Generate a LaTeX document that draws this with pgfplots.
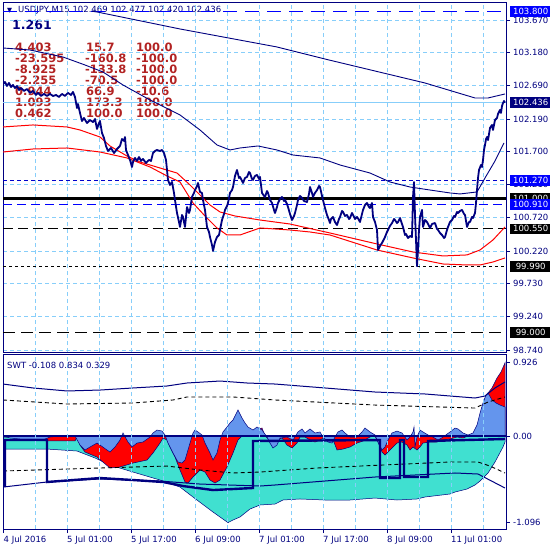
\documentclass[border=0pt]{standalone}
\usepackage{pgfplots}
\pgfplotsset{compat=1.18}
\usepackage{fontspec}
\setmainfont{DejaVu Sans}
\definecolor{mtnavy}{RGB}{0,0,128}
\definecolor{mtgrid}{RGB}{135,206,250}
\definecolor{mtblue}{RGB}{0,0,255}
\definecolor{mtlvl}{RGB}{0,0,205}
\definecolor{mtred}{RGB}{255,0,0}
\definecolor{mtfire}{RGB}{178,34,34}
\definecolor{mtcorn}{RGB}{100,149,237}
\definecolor{mtturq}{RGB}{64,224,208}
\newcommand{\sm}{\fontsize{8.5bp}{10bp}\selectfont}
\newcommand{\rtf}{\fontsize{11.5bp}{13bp}\bfseries\selectfont}
\tikzset{boxlab/.style={anchor=west, inner sep=0pt, minimum width=41bp, minimum height=10.5bp, font=\sm, text=white}}
\pgfplotsset{
  mtaxis/.style={
    scale only axis, width=503bp, xmin=3, xmax=506,
    axis line style={draw=mtnavy, line width=1bp},
    xtick={3.5,67,131,195,259,323,387,451},
    minor xtick={35,99,163,227,291,355,419,483},
    xmajorgrids, xminorgrids,
    grid style={draw=mtgrid, line width=0.8bp, dash pattern=on 4bp off 3bp},
    minor tick length=0pt,
    major tick length=4bp,
    tick align=outside,
    tick style={draw=mtnavy, line width=0.8bp},
    ytick pos=right, yticklabel pos=right,
    yticklabel style={font=\sm, text=mtnavy, anchor=west, inner sep=0pt, xshift=3bp},
    xticklabel style={font=\sm, text=mtnavy, anchor=north west, inner sep=0pt, yshift=-3bp},
  },
}
\begin{document}
\begin{tikzpicture}
\fill[white] (0,0) rectangle (550bp,-550bp);
\path[use as bounding box] (0,0) rectangle (550bp,-550bp);
% header texts
\node[anchor=west, inner sep=0pt, text=mtnavy, font=\fontsize{6.5bp}{7bp}\selectfont] at (7bp,-10.5bp) {▼};
\node[anchor=west, inner sep=0pt, text=mtnavy, font=\sm] at (18bp,-10.5bp) {USDJPY,M15 102.469 102.477 102.420 102.436};
\node[anchor=west, inner sep=0pt, text=mtnavy, font=\fontsize{12.5bp}{14bp}\bfseries\selectfont] at (12bp,-24.5bp) {1.261};
\begin{scope}[every node/.style={anchor=west, inner sep=0pt, text=mtfire, font=\rtf}]
\node at (15bp,-47bp) {4.403};   \node at (86bp,-47bp) {15.7};   \node at (136bp,-47bp) {100.0};
\node at (15bp,-58bp) {-23.595}; \node at (85bp,-58bp) {-160.8}; \node at (136bp,-58bp) {-100.0};
\node at (15bp,-69bp) {-8.925};  \node at (85bp,-69bp) {-133.8}; \node at (136bp,-69bp) {-100.0};
\node at (15bp,-80bp) {-2.255};  \node at (85bp,-80bp) {-70.5};  \node at (136bp,-80bp) {-100.0};
\node at (15bp,-91bp) {0.944};   \node at (86bp,-91bp) {66.9};   \node at (136bp,-91bp) {-10.6};
\node at (15bp,-102bp) {1.093};  \node at (86bp,-102bp) {173.3}; \node at (136bp,-102bp) {100.0};
\node at (15bp,-113bp) {0.462};  \node at (86bp,-113bp) {100.0}; \node at (136bp,-113bp) {100.0};
\end{scope}

% ---------------- main price panel ----------------
\begin{axis}[mtaxis, at={(3bp,-3bp)}, anchor=north west, height=349bp,
  ymin=98.710, ymax=103.924,
  ytick={103.670,103.180,102.690,102.190,101.700,101.210,100.720,100.220,99.730,99.240,98.740},
  yticklabels={103.670,103.180,102.690,102.190,101.700,101.210,100.720,100.220,99.730,99.240,98.740},
  ymajorgrids,
  xticklabels={}, major x tick style={draw=none},
  after end axis/.code={
    \node[boxlab, fill=mtblue] at (axis cs:510,103.800) {103.800};
    \node[boxlab, fill=mtnavy] at (axis cs:510,102.436) {102.436};
    \node[boxlab, fill=mtblue] at (axis cs:510,101.270) {101.270};
    \node[boxlab, fill=black] at (axis cs:510,101.000) {101.000};
    \node[boxlab, fill=mtblue] at (axis cs:510,100.910) {100.910};
    \node[boxlab, fill=black] at (axis cs:510,100.550) {100.550};
    \node[boxlab, fill=black] at (axis cs:510,99.990) {99.990};
    \node[boxlab, fill=black] at (axis cs:510,99.000) {99.000};
  }]
% levels
\addplot[mtblue, line width=1bp, dash pattern=on 14bp off 8bp] coordinates {(3,103.800) (506,103.800)};
\addplot[mtgrid, line width=1bp] coordinates {(3,102.436) (506,102.436)};
\addplot[mtlvl, line width=1bp, dash pattern=on 4bp off 3bp] coordinates {(3,101.270) (506,101.270)};
\addplot[black, line width=3.5bp] coordinates {(3,101.000) (506,101.000)};
\addplot[mtblue, line width=1bp, dash pattern=on 9bp off 5bp] coordinates {(3,100.910) (506,100.910)};
\addplot[black, line width=1bp, dash pattern=on 10bp off 5bp] coordinates {(3,100.550) (506,100.550)};
\addplot[black, line width=1bp, dash pattern=on 3bp off 3bp] coordinates {(3,99.990) (506,99.990)};
\addplot[black, line width=1bp, dash pattern=on 12bp off 6bp] coordinates {(3,99.000) (506,99.000)};
% red averages
\addplot[mtred, line width=1bp] coordinates {(3,102.072) (33,102.102) (67,102.072) (80,102.027) (100,101.922) (110,101.788) (127,101.638) (140,101.549) (160,101.459) (177,101.384) (190,101.205) (200,101.056) (210,100.906) (220,100.802) (235,100.742) (260,100.682) (290,100.622) (330,100.488) (377,100.324) (413,100.204) (443,100.145) (467,100.160) (480,100.234) (493,100.384) (505,100.578)};
\addplot[mtred, line width=1bp] coordinates {(3,101.698) (33,101.743) (67,101.758) (100,101.698) (127,101.609) (150,101.474) (167,101.340) (180,101.250) (193,100.936) (205,100.742) (217,100.563) (227,100.458) (240,100.458) (260,100.563) (275,100.548) (290,100.533) (310,100.503) (330,100.458) (377,100.234) (413,100.115) (443,100.025) (467,100.010) (480,100.010) (493,100.055) (505,100.115)};
% blue averages
\addplot[mtnavy, line width=0.9bp] coordinates {(92,103.800) (97,103.790) (180,103.536) (277,103.267) (325,103.087) (375,102.908) (425,102.729) (475,102.505) (488,102.505) (505,102.565)};
\addplot[mtnavy, line width=0.9bp] coordinates {(3,103.252) (30,103.222) (63,103.117) (85,102.998) (103,102.893) (123,102.699) (150,102.475) (180,102.251) (200,102.027) (217,101.803) (230,101.728) (240,101.758) (258,101.788) (277,101.728) (293,101.653) (320,101.609) (340,101.504) (370,101.384) (390,101.250) (410,101.175) (430,101.130) (450,101.086) (460,101.071) (477,101.101) (485,101.310) (495,101.564) (504,101.833)};
% price
\addplot[mtnavy, line width=1.8bp, line join=round] coordinates {(3,102.714) (5,102.744) (7,102.684) (9,102.729) (11,102.669) (13,102.699) (15,102.654) (17,102.684) (19,102.624) (21,102.654) (24,102.610) (27,102.639) (30,102.580) (33,102.610) (36,102.550) (38,102.580) (41,102.535) (44,102.565) (47,102.535) (50,102.565) (53,102.535) (56,102.550) (59,102.520) (62,102.565) (65,102.535) (68,102.580) (71,102.550) (73,102.595) (75,102.520) (77,102.355) (78,102.415) (80,102.281) (82,102.161) (84,102.206) (87,102.131) (90,102.176) (93,102.146) (95,102.191) (97,102.042) (99,102.131) (100,102.161) (102,101.982) (104,101.907) (106,101.788) (108,101.713) (111,101.758) (114,101.683) (117,101.743) (120,101.788) (122,101.892) (124,101.863) (125,101.922) (126,101.728) (128,101.653) (130,101.579) (132,101.474) (133,101.549) (135,101.609) (137,101.564) (139,101.623) (141,101.564) (143,101.594) (146,101.534) (149,101.579) (151,101.564) (153,101.683) (155,101.713) (157,101.728) (160,101.713) (162,101.728) (164,101.683) (166,101.579) (168,101.280) (170,101.205) (172,101.250) (174,101.086) (175,100.981) (177,100.787) (179,100.652) (180,100.578) (182,100.757) (183,100.727) (185,100.578) (187,100.876) (189,100.787) (190,100.832) (192,101.026) (194,101.086) (195,101.130) (197,101.190) (198,101.235) (200,101.101) (202,101.086) (203,100.981) (205,100.832) (207,100.578) (209,100.503) (210,100.428) (212,100.309) (213,100.219) (215,100.354) (217,100.428) (219,100.458) (220,100.533) (222,100.682) (224,100.772) (225,100.832) (227,100.891) (228,100.936) (230,101.086) (232,101.130) (233,101.175) (235,101.340) (237,101.429) (239,101.310) (240,101.325) (242,101.265) (243,101.235) (245,101.310) (247,101.325) (249,101.399) (250,101.384) (252,101.295) (253,101.280) (255,101.340) (257,101.355) (259,101.295) (260,101.325) (262,101.086) (264,101.041) (265,101.026) (267,101.115) (268,101.086) (270,100.981) (272,100.936) (274,100.832) (275,100.787) (277,100.876) (278,100.936) (280,100.996) (282,101.026) (284,100.966) (285,100.981) (287,100.921) (288,100.876) (290,100.772) (292,100.682) (294,100.742) (295,100.787) (297,100.906) (298,100.981) (300,101.041) (302,101.011) (304,100.966) (307,100.951) (309,101.071) (310,101.175) (312,101.086) (313,101.026) (315,101.086) (317,101.130) (319,101.190) (320,101.175) (322,101.041) (323,100.981) (325,100.861) (327,100.757) (329,100.682) (330,100.637) (331,100.697) (333,100.727) (335,100.652) (337,100.607) (339,100.697) (340,100.727) (342,100.817) (343,100.802) (345,100.742) (347,100.757) (349,100.697) (350,100.712) (352,100.787) (353,100.757) (355,100.697) (357,100.727) (359,100.682) (360,100.652) (362,100.772) (363,100.832) (365,100.906) (367,100.936) (369,100.876) (370,100.861) (372,100.936) (373,100.727) (375,100.652) (377,100.533) (378,100.234) (380,100.294) (382,100.339) (384,100.398) (385,100.428) (387,100.503) (388,100.533) (390,100.593) (392,100.637) (394,100.697) (395,100.682) (397,100.637) (398,100.652) (400,100.712) (402,100.622) (403,100.578) (405,100.458) (406,100.473) (408,100.413) (410,100.443) (412,100.428) (413,101.026) (414,101.250) (415,100.757) (416,100.384) (417,99.990) (418,100.234) (419,100.533) (420,100.727) (422,100.832) (423,100.578) (425,100.682) (427,100.652) (429,100.593) (430,100.563) (432,100.622) (435,100.637) (437,100.548) (438,100.533) (440,100.488) (442,100.458) (444,100.413) (445,100.428) (447,100.533) (448,100.578) (450,100.652) (452,100.682) (454,100.742) (455,100.727) (457,100.802) (458,100.787) (460,100.817) (462,100.832) (464,100.772) (465,100.757) (467,100.578) (469,100.652) (470,100.652) (472,100.727) (473,100.712) (475,100.787) (476,100.936) (477,101.130) (478,101.310) (479,101.429) (481,101.504) (482,101.474) (483,101.579) (484,101.728) (485,101.803) (486,101.892) (487,101.922) (488,101.877) (489,101.967) (490,102.057) (492,102.102) (493,102.027) (495,102.176) (497,102.206) (498,102.266) (500,102.326) (501,102.281) (502,102.385) (503,102.430) (504,102.460) (505,102.436)};
\end{axis}

% ---------------- SWT indicator panel ----------------
\begin{axis}[mtaxis, at={(3bp,-354bp)}, anchor=north west, height=175bp,
  ymin=-1.177, ymax=1.038, axis on top,
  xtick pos=bottom,
  xticklabels={4 Jul 2016,5 Jul 01:00,5 Jul 17:00,6 Jul 09:00,7 Jul 01:00,7 Jul 17:00,8 Jul 09:00,11 Jul 01:00},
  ytick={0.926,0,-1.096},
  yticklabels={0.926,0.00,-1.096}]
% turquoise
\addplot[fill=mtturq, draw=mtnavy, line width=0.5bp] coordinates {(3,0) (3,-0.165) (47,-0.165) (77,-0.190) (95,-0.278) (110,-0.367) (133,-0.456) (160,-0.557) (180,-0.646) (193,-0.772) (205,-0.886) (213,-0.962) (220,-1.025) (228,-1.096) (233,-1.063) (240,-1.025) (250,-0.924) (260,-0.873) (275,-0.861) (283,-0.810) (300,-0.797) (325,-0.810) (350,-0.810) (375,-0.785) (397,-0.810) (417,-0.797) (425,-0.772) (450,-0.734) (455,-0.709) (467,-0.671) (475,-0.620) (480,-0.570) (488,-0.468) (495,-0.329) (503,-0.139) (505,-0.076) (505,0)} -- cycle;
% red
\addplot[fill=mtred, draw=mtnavy, line width=0.5bp] coordinates {(3,0) (3,-0.013) (45,-0.025) (48,-0.063) (75,-0.063) (77,-0.013) (80,-0.114) (85,-0.203) (97,-0.266) (110,-0.405) (120,-0.392) (133,-0.342) (147,-0.304) (153,-0.215) (160,-0.089) (163,-0.025) (167,-0.051) (170,-0.139) (175,-0.266) (180,-0.430) (185,-0.582) (188,-0.595) (193,-0.519) (200,-0.430) (205,-0.456) (210,-0.557) (215,-0.595) (220,-0.557) (227,-0.392) (233,-0.215) (238,-0.051) (242,0) (250,0) (255,0.076) (262,0.101) (265,0) (270,-0.051) (277,-0.051) (282,-0.025) (287,-0.114) (292,-0.152) (297,-0.089) (300,-0.013) (305,-0.013) (310,-0.051) (315,-0.076) (320,-0.051) (325,-0.013) (332,-0.013) (337,-0.177) (343,-0.165) (350,-0.139) (357,-0.089) (363,-0.063) (370,-0.013) (375,0) (378,-0.076) (382,-0.203) (385,-0.241) (390,-0.177) (397,-0.089) (402,-0.076) (407,-0.114) (410,-0.177) (413,-0.139) (417,-0.177) (420,-0.139) (423,-0.089) (430,-0.076) (437,-0.076) (443,-0.051) (450,-0.038) (457,-0.013) (463,-0.025) (468,0) (473,0) (475,0.038) (480,0.228) (484,0.456) (488,0.544) (492,0.608) (497,0.734) (501,0.810) (505,0.926) (505,0)} -- cycle;
% cornflower
\addplot[fill=mtcorn, draw=mtnavy, line width=0.5bp] coordinates {(3,0) (10,-0.025) (20,-0.038) (45,-0.038) (50,-0.013) (60,0) (75,0) (80,-0.114) (85,-0.177) (90,-0.139) (97,-0.089) (100,-0.114) (107,-0.177) (110,-0.203) (115,-0.139) (120,-0.051) (123,0.038) (128,-0.076) (132,-0.139) (137,-0.089) (143,-0.076) (150,-0.013) (153,0.038) (157,0.076) (162,0.063) (165,0.013) (168,-0.089) (173,-0.215) (178,-0.329) (182,-0.342) (185,-0.304) (190,-0.089) (193,0.038) (195,0.076) (198,0.051) (202,0.013) (205,-0.089) (210,-0.215) (213,-0.304) (217,-0.215) (220,-0.051) (223,0.051) (227,0.114) (230,0.165) (233,0.203) (238,0.329) (242,0.228) (245,0.165) (248,0.114) (253,0.076) (257,0.114) (262,0.076) (267,-0.013) (270,-0.089) (273,-0.152) (277,-0.114) (280,-0.025) (287,-0.013) (293,-0.051) (298,0.051) (302,0.089) (305,0.038) (310,0.089) (315,0.038) (320,0.051) (323,-0.013) (328,-0.076) (332,-0.089) (335,-0.013) (338,0.051) (342,0.076) (345,0.038) (350,-0.013) (357,-0.013) (362,0.051) (365,0.101) (370,0.051) (375,0.013) (378,-0.076) (382,-0.177) (385,-0.139) (388,-0.051) (392,0.038) (397,0.063) (402,0.038) (407,-0.051) (410,-0.013) (413,0.051) (414,0.114) (415,-0.139) (417,-0.013) (420,0.076) (423,0.051) (428,0.013) (433,-0.013) (438,-0.051) (443,-0.013) (450,0.051) (455,0.101) (458,0.089) (463,0.038) (468,0.013) (473,0.038) (477,0.139) (480,0.291) (483,0.418) (486,0.519) (488,0.544) (492,0.456) (496,0.418) (500,0.392) (505,0.367) (505,0)} -- cycle;
% zero line
\addplot[mtnavy, line width=1.5bp] coordinates {(3,0) (506,0)};
% bands
\addplot[mtnavy, line width=1bp] coordinates {(3,0.658) (33,0.608) (67,0.570) (100,0.582) (133,0.608) (167,0.633) (187,0.671) (220,0.696) (247,0.671) (275,0.658) (325,0.608) (375,0.557) (425,0.532) (475,0.481) (485,0.506) (495,0.608) (505,0.684)};
\addplot[black, line width=0.9bp, dash pattern=on 4bp off 3bp] coordinates {(3,0.456) (67,0.405) (133,0.418) (173,0.456) (187,0.494) (233,0.494) (275,0.456) (375,0.392) (475,0.354) (488,0.430) (505,0.494)};
\addplot[black, line width=0.9bp, dash pattern=on 4bp off 3bp] coordinates {(3,-0.443) (100,-0.405) (167,-0.380) (200,-0.430) (233,-0.468) (260,-0.456) (317,-0.405) (383,-0.367) (450,-0.329) (478,-0.329) (490,-0.380) (505,-0.468)};
\addplot[mtnavy, line width=1bp] coordinates {(3,-0.646) (47,-0.582) (100,-0.544) (160,-0.570) (200,-0.608) (260,-0.633) (275,-0.620) (375,-0.519) (455,-0.468) (478,-0.481) (505,-0.658)};
% step line
\addplot[mtnavy, line width=2.4bp] coordinates {(5,-0.646) (5,-0.051) (47,-0.051) (47,-0.582) (100,-0.532) (133,-0.557) (163,-0.582) (183,-0.633) (213,-0.684) (253,-0.658) (253,-0.063) (380,-0.051) (380,-0.532) (400,-0.532) (400,-0.051) (404,-0.051) (404,-0.519) (428,-0.519) (428,-0.063) (505,-0.038)};
\end{axis}
\node[anchor=west, inner sep=0pt, text=mtnavy, font=\sm] at (7bp,-365bp) {SWT -0.108 0.834 0.329};
\end{tikzpicture}
\end{document}
